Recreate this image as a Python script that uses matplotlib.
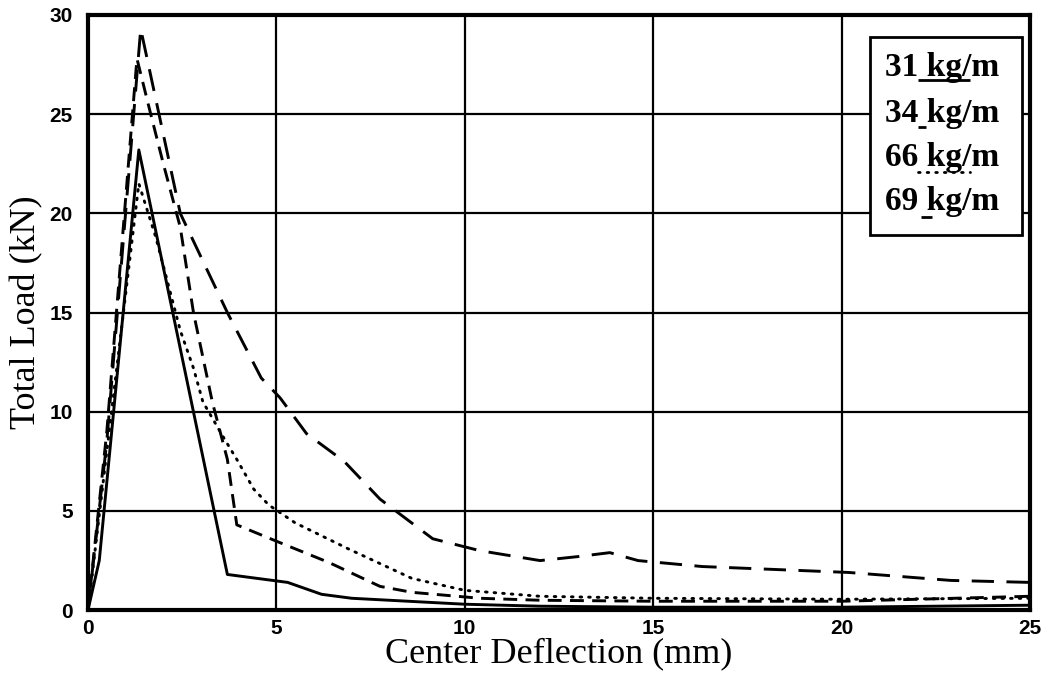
"""
Load-deflection curves for four fibre dosages (scanned figure redraw).

Run: python plot.py
Output: out.png
"""

import matplotlib
matplotlib.use("Agg")
import matplotlib.pyplot as plt
from matplotlib.patches import Rectangle

# --- data (mm, kN) ---
defl_31 = [0, 0.3, 1.35, 3.7, 5.3, 6.2, 7.0, 8.5, 10, 12, 15, 20, 25]
load_31 = [0, 2.5, 23.2, 1.8, 1.4, 0.8, 0.6, 0.45, 0.3, 0.2, 0.15, 0.15, 0.25]

defl_34 = [0, 0.5, 1.3, 1.6, 2.0, 2.45, 2.8, 3.3, 3.7, 3.95, 5.1, 6.4,
           7.75, 8.6, 10.4, 12, 15, 20, 25]
load_34 = [0, 9.0, 27.8, 25.5, 22.5, 19.3, 15.0, 10.5, 7.6, 4.3, 3.4, 2.4,
           1.2, 0.9, 0.6, 0.5, 0.45, 0.45, 0.7]

defl_66 = [0, 0.5, 1.35, 1.8, 2.45, 2.8, 3.05, 3.6, 3.95, 4.4, 4.8, 5.5,
           6.9, 8.6, 10, 12, 15, 20, 25]
load_66 = [0, 8.0, 21.5, 18.8, 14.1, 12.2, 10.5, 8.7, 7.6, 6.1, 5.3, 4.4,
           3.1, 1.6, 1.0, 0.7, 0.6, 0.55, 0.6]

defl_69 = [0, 0.5, 1.4, 2.45, 3.7, 4.6, 5.1, 5.8, 6.8, 7.75, 9.15, 10.4,
           12.0, 13.0, 13.85, 14.6, 16.3, 18.9, 20.2, 22.9, 25]
load_69 = [0, 8.5, 29.3, 20.0, 15.0, 11.7, 10.7, 8.9, 7.5, 5.6, 3.6, 3.0,
           2.5, 2.7, 2.9, 2.5, 2.2, 2.0, 1.9, 1.5, 1.4]

series_labels = ["31 kg/m", "34 kg/m", "66 kg/m", "69 kg/m"]
x_ticks = [0, 5, 10, 15, 20, 25]
y_ticks = [0, 5, 10, 15, 20, 25, 30]

SERIF = ["Liberation Serif", "DejaVu Serif"]

# line styles, dash lengths in points (not scaled by width)
STYLES = [
    dict(linestyle="-"),
    dict(linestyle=(0, (10, 6))),
    dict(linestyle=(0, (1.2, 5)), dash_capstyle="round"),
    dict(linestyle=(0, (16, 9))),
]


def main():
    plt.rcParams["lines.scale_dashes"] = False
    plt.rcParams["font.family"] = SERIF

    fig = plt.figure(figsize=(10.56, 6.81), dpi=100)
    ax = fig.add_axes([0.0833, 0.104, 0.892, 0.874])

    curves = [(defl_31, load_31), (defl_34, load_34),
              (defl_66, load_66), (defl_69, load_69)]
    for (x, y), st in zip(curves, STYLES):
        ax.plot(x, y, color="black", lw=2.1, zorder=3, **st)

    ax.set_xlim(0, 25)
    ax.set_ylim(0, 30)
    ax.set_xticks(x_ticks)
    ax.set_yticks(y_ticks)
    ax.grid(True, color="black", lw=1.6)
    ax.set_axisbelow(True)
    ax.tick_params(length=0, labelsize=15)
    ax.tick_params(axis="y", pad=11)
    ax.tick_params(axis="x", pad=6)
    # tick numbers in the scan are a bold sans face
    for lab in ax.get_xticklabels() + ax.get_yticklabels():
        lab.set_fontweight("bold")
        lab.set_family(["Liberation Sans", "DejaVu Sans"])
    for sp in ax.spines.values():
        sp.set_linewidth(3)

    ax.set_xlabel("Center Deflection (mm)", fontsize=26, labelpad=0)
    ax.set_ylabel("Total Load (kN)", fontsize=26, labelpad=4)

    # legend drawn by hand: text with a style sample under "kg"
    ax.add_patch(Rectangle((0.830, 0.630), 0.1615, 0.333, transform=ax.transAxes,
                           facecolor="white", edgecolor="black", lw=2, zorder=4))
    text_y = [0.912, 0.834, 0.760, 0.686]
    sample_x = [(0.881, 0.936), (0.881, 0.890), (0.881, 0.936), (0.884, 0.896)]
    sample_y = [0.890, 0.811, 0.736, 0.660]
    for lab, ty, sx, sy, st in zip(series_labels, text_y, sample_x, sample_y, STYLES):
        ax.text(0.846, ty, lab, transform=ax.transAxes, fontsize=24,
                fontweight="bold", va="center", ha="left", zorder=5)
        # the short marks for the dashed series are just single dashes
        st_sample = {"linestyle": "-"} if st in (STYLES[1], STYLES[3]) else st
        ax.plot(sx, [sy, sy], transform=ax.transAxes, color="black", lw=2,
                zorder=5, clip_on=False, solid_capstyle="butt", **st_sample)

    fig.savefig("out.png", dpi=100)


if __name__ == "__main__":
    main()
